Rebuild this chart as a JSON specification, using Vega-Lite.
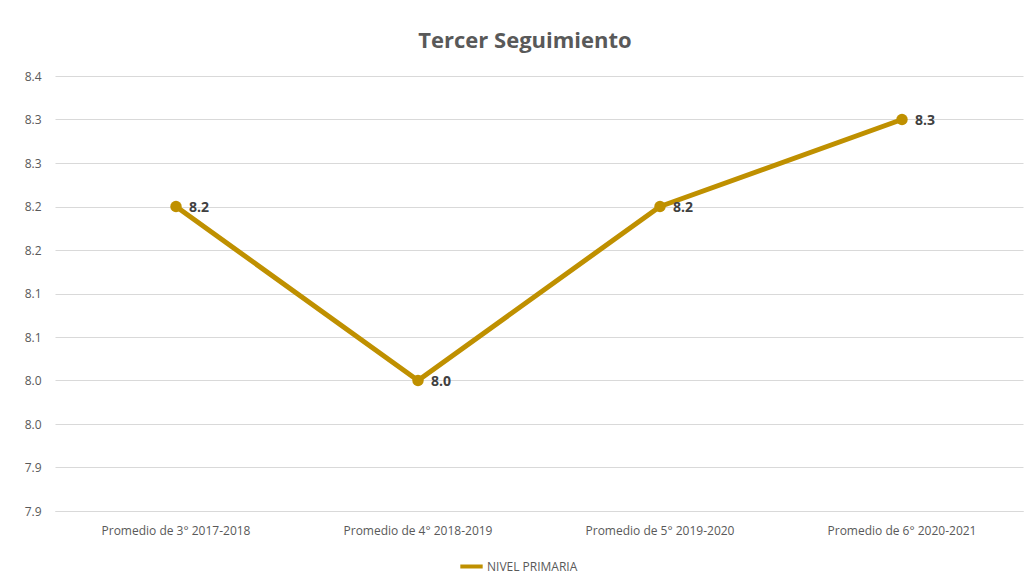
{
  "$schema": "https://vega.github.io/schema/vega-lite/v6.json",
  "autosize": {"type": "none"},
  "width": 968,
  "height": 435,
  "padding": {"left": 55, "top": 76, "right": 8, "bottom": 72},
  "background": "white",
  "config": {
    "view": {"stroke": null},
    "font": "Open Sans"
  },
  "title": {
    "text": "Tercer Seguimiento",
    "font": "Open Sans",
    "fontSize": 22,
    "fontWeight": "bold",
    "color": "#595959",
    "anchor": "middle",
    "frame": "group",
    "dx": -14,
    "offset": 17
  },
  "data": {
    "values": [
      {"periodo": "Promedio de 3° 2017-2018", "nivel": "NIVEL PRIMARIA", "promedio": 8.2},
      {"periodo": "Promedio de 4° 2018-2019", "nivel": "NIVEL PRIMARIA", "promedio": 8.0},
      {"periodo": "Promedio de 5° 2019-2020", "nivel": "NIVEL PRIMARIA", "promedio": 8.2},
      {"periodo": "Promedio de 6° 2020-2021", "nivel": "NIVEL PRIMARIA", "promedio": 8.3}
    ]
  },
  "encoding": {
    "x": {
      "field": "periodo",
      "type": "nominal",
      "sort": null,
      "scale": {"type": "band", "paddingInner": 0, "paddingOuter": 0},
      "axis": {
        "title": null,
        "labelAngle": 0,
        "labelFont": "Open Sans",
        "labelFontSize": 12,
        "labelColor": "#595959",
        "labelPadding": 14,
        "domain": true,
        "domainColor": "#d9d9d9",
        "ticks": false,
        "grid": false
      }
    },
    "y": {
      "field": "promedio",
      "type": "quantitative",
      "scale": {"domain": [7.85, 8.35], "nice": false, "zero": false},
      "axis": {
        "title": null,
        "values": [7.85, 7.9, 7.95, 8.0, 8.05, 8.1, 8.15, 8.2, 8.25, 8.3, 8.35],
        "labelExpr": "format(datum.value + 0.0001, '.1f')",
        "labelFont": "Open Sans",
        "labelFontSize": 12,
        "labelColor": "#595959",
        "labelPadding": 14,
        "domain": false,
        "ticks": false,
        "grid": true,
        "gridColor": "#d9d9d9",
        "gridWidth": 1
      }
    }
  },
  "layer": [
    {
      "mark": {"type": "line", "strokeWidth": 5, "strokeCap": "round", "strokeJoin": "round"},
      "encoding": {
        "color": {
          "field": "nivel",
          "type": "nominal",
          "scale": {"range": ["#BF9000"]},
          "legend": {
            "title": null,
            "orient": "none",
            "legendX": 403,
            "legendY": 477,
            "direction": "horizontal",
            "symbolType": "stroke",
            "symbolStrokeWidth": 4,
            "symbolSize": 500,
            "labelOffset": 2,
            "labelFont": "Open Sans",
            "labelFontSize": 12,
            "labelColor": "#595959"
          }
        }
      }
    },
    {
      "mark": {"type": "point", "filled": true, "size": 130, "opacity": 1, "color": "#BF9000"},
      "encoding": {}
    },
    {
      "mark": {"type": "text", "align": "left", "baseline": "middle", "dx": 13, "dy": 1, "fontSize": 14, "fontWeight": "bold", "color": "#404040", "font": "Open Sans"},
      "encoding": {
        "text": {"field": "promedio", "type": "quantitative", "format": ".1f"}
      }
    }
  ]
}
